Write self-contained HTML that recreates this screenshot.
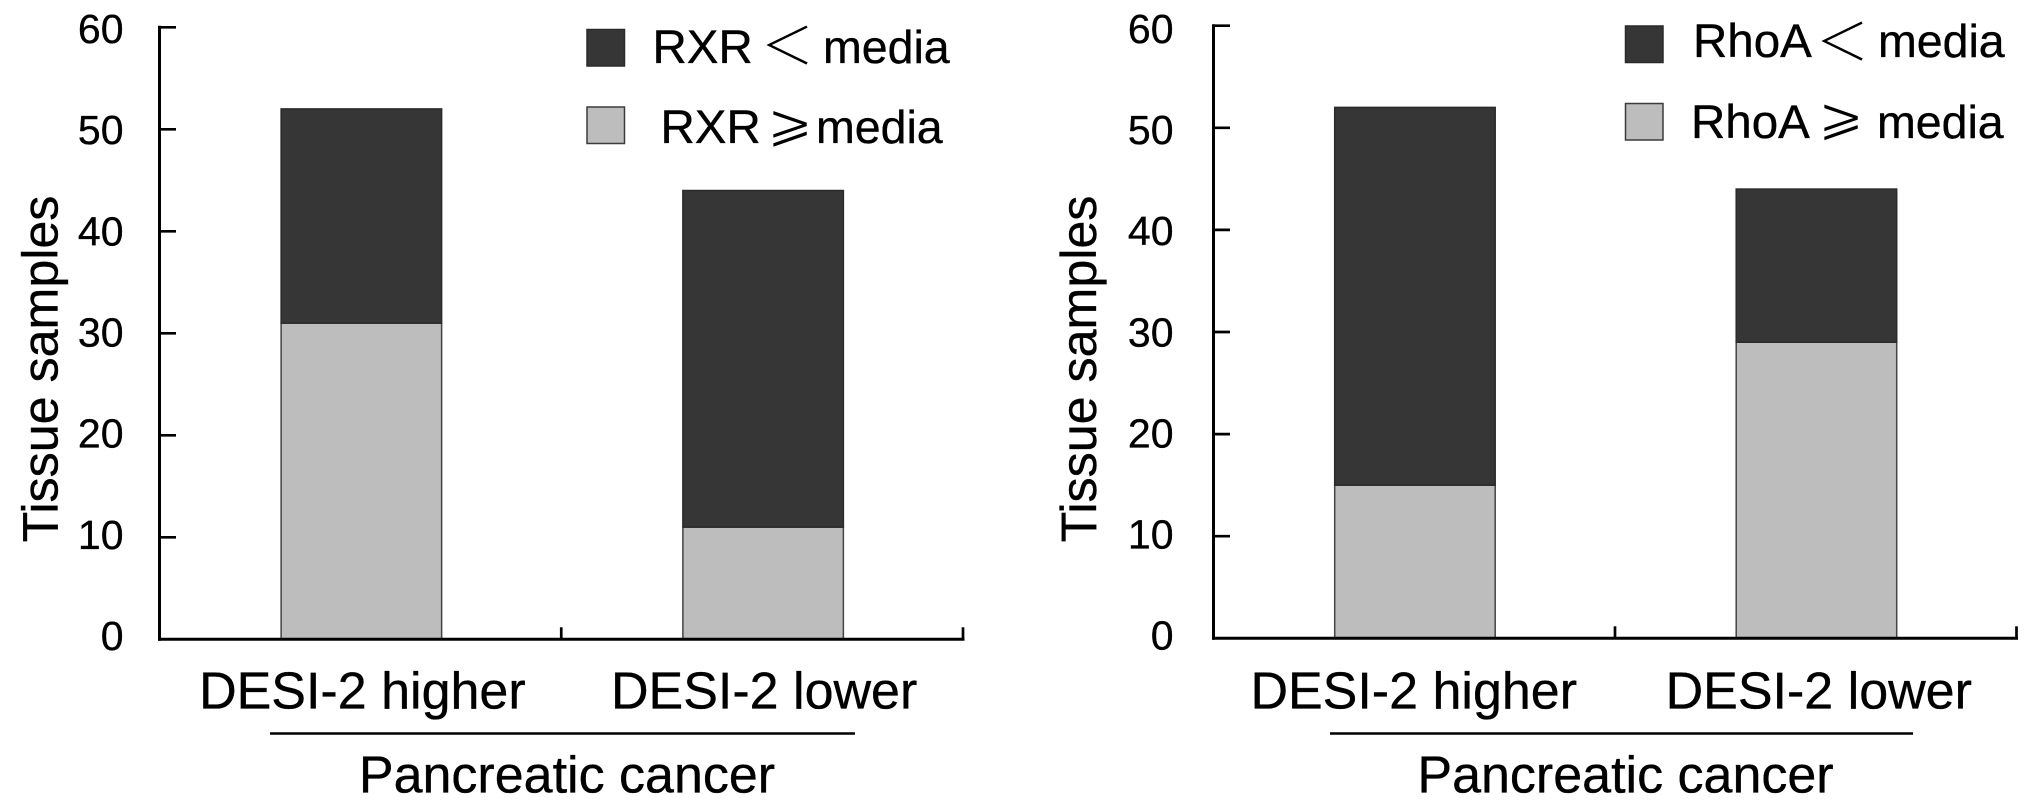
<!DOCTYPE html>
<html lang="en">
<head>
<meta charset="utf-8">
<title>Tissue samples by DESI-2 expression in pancreatic cancer</title>
<style>
html,body{margin:0;padding:0;background:#fff;width:2031px;height:806px;overflow:hidden}
svg{display:block}
text{font-family:"Liberation Sans","Noto Sans CJK SC",sans-serif;fill:#000;stroke:#000;stroke-width:.35}
.sym-thin{font-family:"DejaVu Sans",sans-serif;stroke:#fff;stroke-width:.95}
.sym-less{font-family:"Noto Sans CJK SC",sans-serif;font-weight:300;stroke:none}
</style>
</head>
<body>
<svg id="figure" width="2031" height="806" viewBox="0 0 2031 806" xmlns="http://www.w3.org/2000/svg">
  <rect width="2031" height="806" fill="#fff"/>

  <g id="panel-left"></g>
  <g id="panel-right"></g>

  <g>
    <g>
      <rect x="587" y="29.5" width="37.5" height="36.5" fill="#363636" stroke="#2a2a2a" stroke-width="1.5"/>
      <text font-size="46.5" y="63"><tspan x="652.5" font-size="47.5">RXR</tspan><tspan x="823">media</tspan></text>
      <text class="sym-less" font-size="46" transform="translate(761,64) scale(1.15,1.1)">＜</text>
    </g>
    <g>
      <rect x="587" y="107" width="37.5" height="36.5" fill="#bdbdbd" stroke="#3c3c3c" stroke-width="1.5"/>
      <text font-size="46.5" y="143"><tspan x="660.5" font-size="47.5">RXR</tspan><tspan x="816">media</tspan></text>
      <text class="sym-thin" font-size="46" transform="translate(767,141) scale(1.2,1.15)">⩾</text>
    </g>
  </g>

  <g>
    <g>
      <rect x="1625.5" y="26" width="37.5" height="36.5" fill="#363636" stroke="#2a2a2a" stroke-width="1.5"/>
      <text font-size="46.5" y="57"><tspan x="1693" font-size="47.5">RhoA</tspan><tspan x="1878">media</tspan></text>
      <text class="sym-less" font-size="46" transform="translate(1816,60) scale(1.15,1.1)">＜</text>
    </g>
    <g>
      <rect x="1625.5" y="103.5" width="37.5" height="36.5" fill="#bdbdbd" stroke="#3c3c3c" stroke-width="1.5"/>
      <text font-size="46.5" y="138"><tspan x="1691" font-size="47.5">RhoA</tspan><tspan x="1877">media</tspan></text>
      <text class="sym-thin" font-size="46" transform="translate(1818,134.5) scale(1.2,1.15)">⩾</text>
    </g>
  </g>
</svg>

<script>
var categories = ["DESI-2 higher", "DESI-2 lower"];
var tickLabels = [0, 10, 20, 30, 40, 50, 60];
var rxrAtLeastMedia = [31, 11];
var rxrBelowMedia = [21, 33];
var rhoaAtLeastMedia = [15, 29];
var rhoaBelowMedia = [37, 15];
var yAxisTitle = "Tissue samples";
var groupTitle = "Pancreatic cancer";

var SVG_NS = "http://www.w3.org/2000/svg";

function make(parent, tag, attrs, text) {
  var el = document.createElementNS(SVG_NS, tag);
  for (var k in attrs) el.setAttribute(k, attrs[k]);
  if (text !== undefined) el.textContent = text;
  parent.appendChild(el);
  return el;
}

function drawPanel(host, layout, lowerValues, upperValues) {
  var yMax = tickLabels[tickLabels.length - 1];
  function yScale(v) { return layout.y0 - (v / yMax) * (layout.y0 - layout.yTop); }
  function yLabelBaseline(v) { return layout.labelBase0 - (v / yMax) * (layout.labelBase0 - layout.labelBaseTop); }
  var band = (layout.xRight - layout.xLeft) / categories.length;
  function xCenter(i) { return layout.xLeft + band * (i + 0.5); }
  var barW = layout.barWidth;

  categories.forEach(function (cat, i) {
    var cx = xCenter(i) + layout.barShift;
    var low = make(host, "rect", {
      x: cx - barW / 2, y: yScale(lowerValues[i]), width: barW,
      height: yScale(0) - yScale(lowerValues[i]),
      fill: "#bdbdbd", stroke: "#444", "stroke-width": 1.5
    });
    
    
    var total = lowerValues[i] + upperValues[i];
    var up = make(host, "rect", {
      x: cx - barW / 2, y: yScale(total), width: barW,
      height: yScale(lowerValues[i]) - yScale(total),
      fill: "#363636", stroke: "#2a2a2a", "stroke-width": 1.5
    });
    
    

    var label = make(host, "text", {
      x: xCenter(i) + layout.catLabelShift[i], y: layout.catBaseline,
      "text-anchor": "middle", "font-size": 52
    }, cat);
    
    
  });

  var yAxis = make(host, "line", {
    x1: layout.xLeft, x2: layout.xLeft, y1: yScale(yMax) - 1.5, y2: yScale(0) + 1.5,
    stroke: "#000", "stroke-width": 3
  });
  
  

  var xAxis = make(host, "line", {
    x1: layout.xLeft - 1.5, x2: layout.xRight + 1.5, y1: yScale(0), y2: yScale(0),
    stroke: "#000", "stroke-width": 3
  });
  
  

  tickLabels.forEach(function (t) {
    if (t !== 0) {
      var tick = make(host, "line", {
        x1: layout.xLeft, x2: layout.xLeft + 16.5, y1: yScale(t), y2: yScale(t),
        stroke: "#000", "stroke-width": 2.7
      });
      
      
    }
    var tl = make(host, "text", {
      x: layout.tickLabelRight, y: yLabelBaseline(t),
      "text-anchor": "end", "font-size": 41
    }, String(t));
    
    
  });

  for (var i = 1; i <= categories.length; i++) {
    var tx = layout.xLeft + band * i;
    var xt = make(host, "line", {
      x1: tx, x2: tx, y1: yScale(0), y2: yScale(0) - 12,
      stroke: "#000", "stroke-width": 2.7
    });
    
    
  }

  var yt = make(host, "text", {
    transform: "translate(" + layout.titleX + ",369) rotate(-90)",
    "text-anchor": "middle", "font-size": 50.2
  }, yAxisTitle);
  
  

  var rule = make(host, "line", {
    x1: layout.ruleLeft, x2: layout.ruleRight, y1: 733.5, y2: 733.5,
    stroke: "#000", "stroke-width": 2.5
  });
  
  

  var gt = make(host, "text", {
    x: layout.groupCenter, y: 792.5, "text-anchor": "middle", "font-size": 52
  }, groupTitle);
  
  
}

drawPanel(document.getElementById("panel-left"), {
  xLeft: 159.5, xRight: 963, y0: 639.3, yTop: 27.3, barWidth: 160.5, barShift: 1,
  labelBase0: 650, labelBaseTop: 43, tickLabelRight: 123.5, titleX: 57.5,
  catBaseline: 708.5, catLabelShift: [2, 2],
  ruleLeft: 270, ruleRight: 855, groupCenter: 567
}, rxrAtLeastMedia, rxrBelowMedia);

drawPanel(document.getElementById("panel-right"), {
  xLeft: 1213.5, xRight: 2016.5, y0: 638.3, yTop: 25.7, barWidth: 160.5, barShift: 0.7,
  labelBase0: 649.5, labelBaseTop: 43, tickLabelRight: 1173.5, titleX: 1096,
  catBaseline: 708.5, catLabelShift: [-0.5, 3],
  ruleLeft: 1330, ruleRight: 1913, groupCenter: 1625.5
}, rhoaAtLeastMedia, rhoaBelowMedia);
</script>
</body>
</html>
